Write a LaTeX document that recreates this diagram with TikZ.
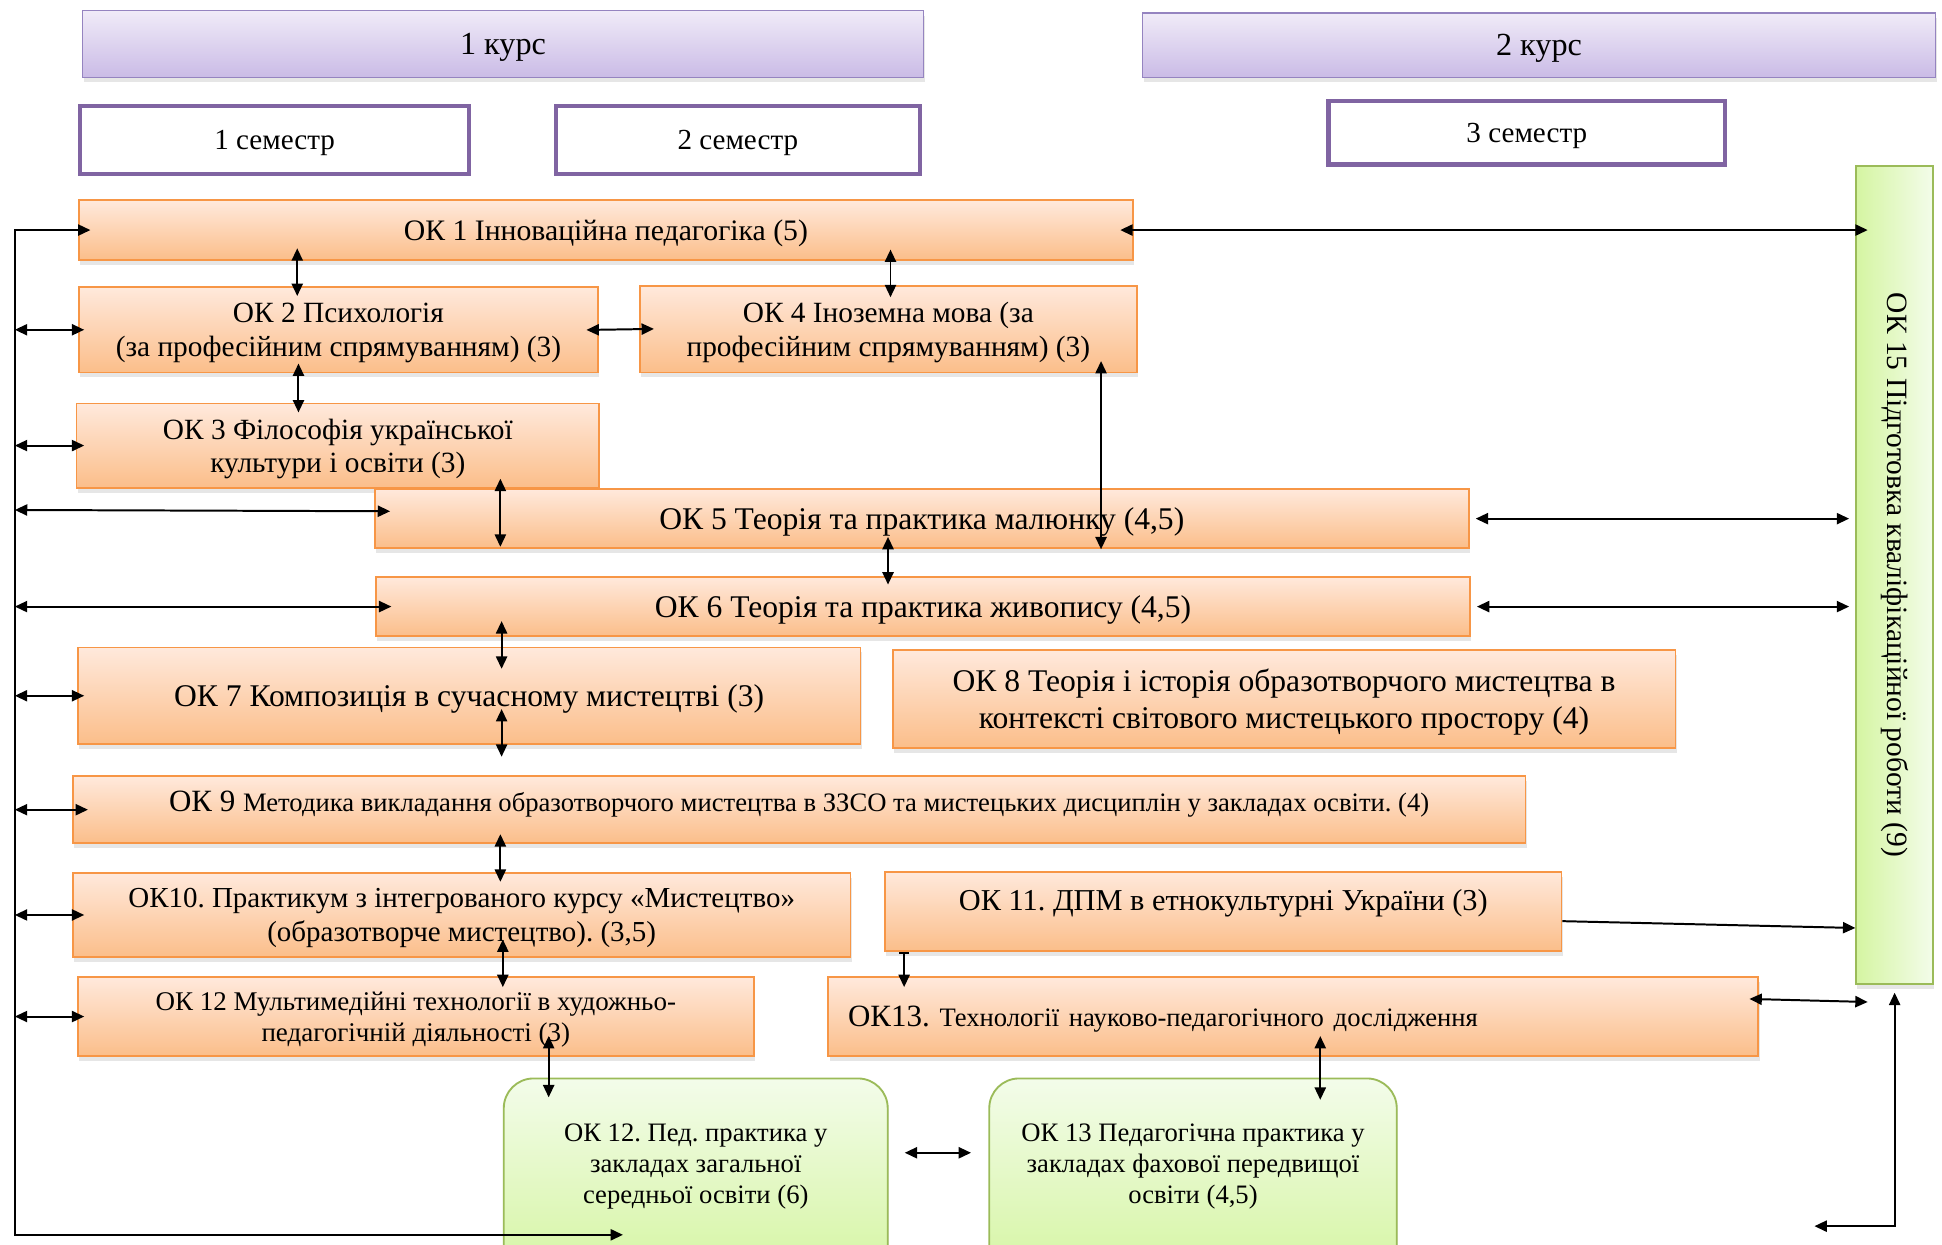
\documentclass[tikz,border=0pt]{standalone}
\usepackage{fontspec}
\setmainfont{Liberation Serif}
\usepackage{graphicx}
\usetikzlibrary{arrows.meta,shadows}
\frenchspacing
\definecolor{coursetop}{HTML}{F0EBF8}
\definecolor{coursebot}{HTML}{CABBE6}
\definecolor{courseline}{HTML}{9584C0}
\definecolor{termline}{HTML}{8064A2}
\definecolor{oktop}{HTML}{FFE9DC}
\definecolor{okbot}{HTML}{FBBE8A}
\definecolor{okline}{HTML}{F79646}
\definecolor{pptop}{HTML}{F3FCEA}
\definecolor{ppbot}{HTML}{D5F5A2}
\definecolor{ppline}{HTML}{9BBB59}
\begin{document}
\begin{tikzpicture}[x=1pt,y=-1pt]
  \tikzset{
    softshadow/.style={drop shadow={opacity=0.2,shadow xshift=1pt,shadow yshift=-4pt}},
    course/.style={draw=courseline,line width=1.2pt,top color=coursetop,bottom color=coursebot,
      anchor=north west,text depth=0pt,font=\fontsize{26}{30}\selectfont,softshadow},
    term/.style={draw=termline,line width=3.5pt,fill=white,anchor=north west,text depth=0pt,
      font=\fontsize{23.5}{27}\selectfont},
    okbox/.style={draw=okline,line width=1.5pt,top color=oktop,bottom color=okbot,anchor=north west,
      align=center,inner sep=2pt,text depth=0pt,font=\fontsize{23.7}{27}\selectfont,softshadow},
    practbox/.style={draw=ppline,line width=1.5pt,top color=pptop,bottom color=ppbot,rounded corners=24pt,
      anchor=north west,align=center,font=\fontsize{21.5}{25}\selectfont,softshadow},
    finalbox/.style={draw=ppline,line width=1.5pt,left color=ppbot,right color=pptop,anchor=north west,
      font=\fontsize{23.8}{27}\selectfont,softshadow},
    dbl/.style={{Triangle[length=10pt,width=9pt]}-{Triangle[length=10pt,width=9pt]},line width=1.6pt},
    onearr/.style={-{Triangle[length=10pt,width=9pt]},line width=1.6pt}
  }
  \useasboundingbox (0,0) rectangle (1568,1005);
  \clip (0,0) rectangle (1568,1005);

  \node[course,minimum width=679pt,minimum height=54pt] (c1) at (66,8) {1 курс};
  \node[course,minimum width=640pt,minimum height=52pt] (c2) at (922,10) {2 курс};
  \node[term,minimum width=314pt,minimum height=55pt] (s1) at (63,84) {1 семестр};
  \node[term,minimum width=294pt,minimum height=55pt] (s2) at (447,84) {2 семестр};
  \node[term,minimum width=320pt,minimum height=51pt] (s3) at (1071,80) {3 семестр};

  \node[finalbox,minimum width=62pt,minimum height=661pt] (ok15) at (1498,133)
    {\rotatebox{-90}{ОК 15 Підготовка кваліфікаційної роботи (9)}};

  \node[okbox,minimum width=851pt,minimum height=48pt,font=\fontsize{24}{28}\selectfont] (ok1) at (63,161)
    {ОК 1 Інноваційна педагогіка (5)};
  \node[okbox,minimum width=419pt,minimum height=69pt] (ok2) at (63,231)
    {ОК 2 Психологія\\(за професійним спрямуванням) (3)};
  \node[okbox,minimum width=401pt,minimum height=70pt] (ok4) at (516,230)
    {ОК 4 Іноземна мова (за\\професійним спрямуванням) (3)};
  \node[okbox,minimum width=422pt,minimum height=68pt] (ok3) at (61,325)
    {ОК 3 Філософія української\\культури і освіти (3)};
  \node[okbox,minimum width=883pt,minimum height=48pt,font=\fontsize{25.5}{28}\selectfont] (ok5) at (302,394)
    {ОК 5 Теорія та практика малюнку (4,5)};
  \node[okbox,minimum width=883pt,minimum height=48pt,font=\fontsize{25.5}{28}\selectfont] (ok6) at (303,465)
    {ОК 6 Теорія та практика живопису (4,5)};
  \node[okbox,minimum width=632pt,minimum height=78pt,font=\fontsize{25.5}{30}\selectfont] (ok7) at (62,522)
    {ОК 7 Композиція в сучасному мистецтві (3)};
  \node[okbox,minimum width=632pt,minimum height=79pt,font=\fontsize{25.5}{30}\selectfont] (ok8) at (720,524)
    {ОК 8 Теорія і історія образотворчого мистецтва в\\контексті світового мистецького простору (4)};
  \node[okbox,minimum width=1173pt,minimum height=54pt,text depth=13pt,font=\fontsize{25}{28}\selectfont] (ok9) at (58,626)
    {ОК 9 {\fontsize{21.5}{24}\selectfont Методика викладання образотворчого мистецтва в ЗЗСО та мистецьких дисциплін у закладах освіти. (4)}};
  \node[okbox,minimum width=628pt,minimum height=68pt,font=\fontsize{23.4}{27}\selectfont] (ok10) at (58,704)
    {ОК10. Практикум з інтегрованого курсу «Мистецтво»\\(образотворче мистецтво). (3,5)};
  \node[okbox,minimum width=546pt,minimum height=64pt,text depth=19pt,font=\fontsize{24.5}{28}\selectfont] (ok11) at (714,703)
    {ОК 11. ДПМ в етнокультурні України (3)};
  \node[okbox,minimum width=546pt,minimum height=64pt,font=\fontsize{21.8}{25}\selectfont] (ok12) at (62,788)
    {ОК 12 Мультимедійні технології в художньо-\\педагогічній діяльності (3)};
  \node[okbox,minimum width=751pt,minimum height=64pt,text width=719pt,align=left] (ok13) at (668,788)
    {{\fontsize{25}{28}\selectfont ОК13.} {\fontsize{21.5}{24}\selectfont Технології науково-педагогічного дослідження}};

  \node[practbox,minimum width=310pt,minimum height=160pt,text depth=23pt] (pp12) at (406,870)
    {ОК 12. Пед. практика у\\закладах загальної\\середньої освіти (6)};
  \node[practbox,minimum width=329pt,minimum height=160pt,text depth=23pt] (pp13) at (798,870)
    {ОК 13 Педагогічна практика у\\закладах фахової передвищої\\освіти (4,5)};

  \coordinate (buscorner) at (12,997);
  \coordinate (b12) at (503,997);
  \coordinate (rb) at (1465,990);

  \draw[dbl,shorten >=-10pt] (b12) -- (buscorner) |- (ok1.west);
  \foreach \n/\s in {ok2/5pt,ok3/7pt,ok6/13pt,ok7/6pt,ok9/13pt,ok10/10pt,ok12/6pt}
    \draw[dbl,shorten >=-\s] (buscorner |- \n.west) -- (\n.west);
  \draw[dbl,shorten >=-13pt] ([yshift=7pt]buscorner |- ok5.west) -- ([yshift=6pt]ok5.west);

  \draw[dbl,shorten <=-11pt,shorten >=-10pt] (ok1.east) -- (ok1.east -| ok15.west);
  \draw[dbl,shorten <=5pt,shorten >=5pt] (ok5.east) -- (ok5.east -| ok15.west);
  \draw[dbl,shorten <=5pt,shorten >=5pt] (ok6.east) -- (ok6.east -| ok15.west);
  \draw[onearr] ([yshift=-8pt]ok11.east) -- ([yshift=-285pt]ok15.west);
  \draw[dbl,shorten <=-8pt,shorten >=-10pt] ([yshift=14pt]ok13.east) -- ([yshift=-344.5pt]ok15.west);
  \draw[dbl,shorten >=6pt] (rb) -| (ok15.south);

  \draw[dbl,shorten <=-10pt,shorten >=-8pt] ([xshift=177pt]ok1.south west) -- ([xshift=177pt]ok2.north west);
  \draw[dbl,shorten <=-9pt,shorten >=-10pt] ([xshift=656pt]ok1.south west) -- ([xshift=203pt]ok4.north west);
  \draw[dbl,shorten <=-10pt,shorten >=-12pt] (ok2.east) -- (ok4.west);
  \draw[dbl,shorten <=-8pt,shorten >=-8pt] ([xshift=178pt]ok2.south west) -- ([xshift=180pt]ok3.north west);
  \draw[dbl,shorten <=-8pt,shorten >=2pt] ([xshift=343pt]ok3.south west) -- ([xshift=102pt]ok5.south west);
  \draw[dbl,shorten <=-10pt] ([xshift=373pt]ok4.south west) -- ([xshift=587pt]ok5.south west);
  \draw[dbl,shorten <=-10pt,shorten >=-7pt] ([xshift=415pt]ok5.south west) -- ([xshift=414pt]ok6.north west);
  \draw[dbl,shorten <=-13pt,shorten >=-18pt] ([xshift=102pt]ok6.south west) -- ([xshift=343pt]ok7.north west);
  \draw[dbl] ([xshift=343pt,yshift=29pt]ok7.south west) -- ([xshift=347pt,yshift=15pt]ok9.north west);
  \draw[dbl,shorten <=-8pt,shorten >=-8pt] ([xshift=346pt]ok9.south west) -- ([xshift=346pt]ok10.north west);
  \draw[dbl,shorten <=-15pt,shorten >=-9pt] ([xshift=348pt]ok10.south west) -- ([xshift=344pt]ok12.north west);
  \draw[dbl,shorten <=-17pt,shorten >=-16pt] ([xshift=381pt]ok12.south west) -- ([xshift=37pt]pp12.north west);
  \draw[{Bar[width=8pt]}-{Triangle[length=10pt,width=9pt]},line width=1.6pt,shorten >=-9pt]
    ([xshift=16pt]ok11.south west) -- ([xshift=62pt]ok13.north west);
  \draw[dbl,shorten <=-17pt,shorten >=-18pt] ([xshift=398pt]ok13.south west) -- ([xshift=268pt]pp13.north west);
  \draw[dbl,shorten <=13pt,shorten >=14pt] ([yshift=20pt]pp12.east) -- ([yshift=20pt]pp13.west);
\end{tikzpicture}
\end{document}
